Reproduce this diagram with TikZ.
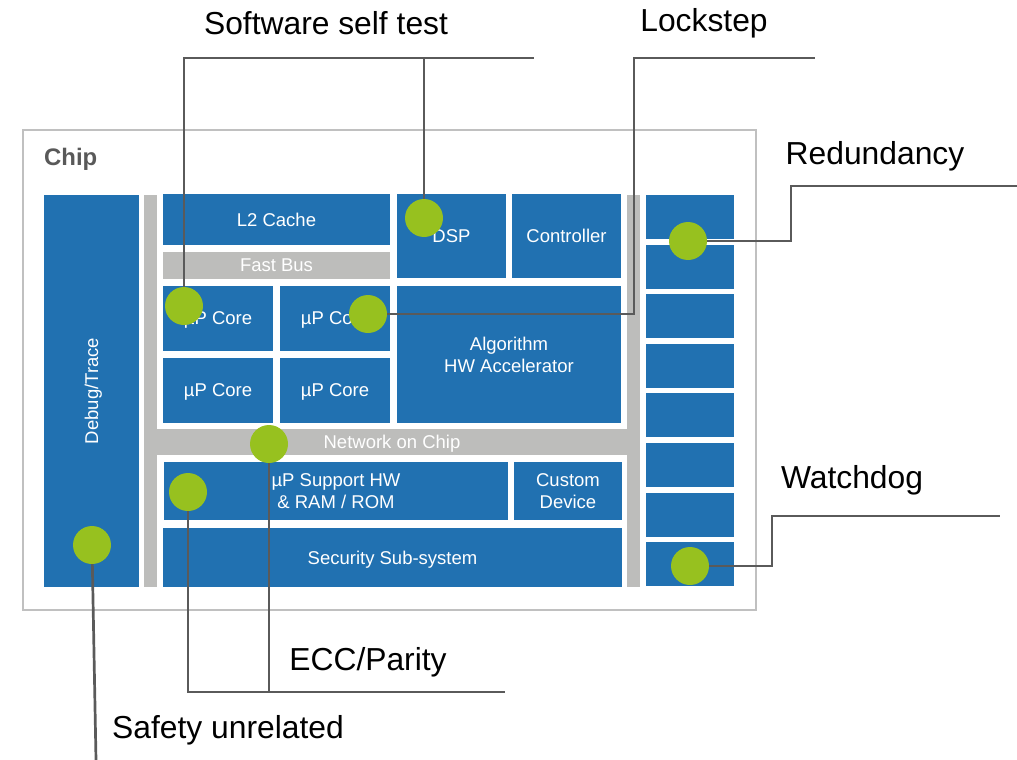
\documentclass[tikz,border=0pt]{standalone}
\usepackage{fontspec}
\setmainfont{Liberation Sans}
\definecolor{chipblue}{HTML}{2171B1}
\definecolor{bargray}{HTML}{BDBDBB}
\definecolor{dotgreen}{HTML}{97C11F}
\definecolor{wiregray}{HTML}{5A5A5A}
\definecolor{framegray}{HTML}{C0C0C0}
\definecolor{chiptext}{HTML}{595959}
\begin{document}
\begin{tikzpicture}[x=1pt,y=-1pt,
  blk/.style={fill=chipblue,text=white,inner sep=0pt,text depth=0pt,align=center,font=\fontsize{18.5}{22}\selectfont},
  bar/.style={fill=bargray,text=white,inner sep=0pt,text depth=0pt,font=\fontsize{18.5}{22}\selectfont},
  dot/.style={circle,fill=dotgreen,inner sep=0pt,minimum size=38pt},
  wire/.style={draw=wiregray,line width=2.7pt},
  lbl/.style={inner sep=0pt,yshift=-3pt,font=\fontsize{31.8}{36}\selectfont}]
\useasboundingbox (0,0) rectangle (1017,760);
% chip outline
\draw [framegray,line width=2.5pt] (23,130) rectangle (756,610);
\node [anchor=west,inner sep=0pt,text=chiptext,font=\fontsize{23.9}{28}\selectfont\bfseries] (chip) at (44,159) {Chip};
% gray buses
\node [bar,minimum width=13pt,minimum height=392pt] (lbar) at (150.5,391) {};
\node [bar,minimum width=13pt,minimum height=392pt] (rbar) at (633.5,391) {};
\node [bar,minimum width=496pt,minimum height=26pt] (noc) at (392,442) {Network on Chip};
\node [bar,minimum width=227pt,minimum height=27pt] (fastbus) at (276.5,265.5) {Fast Bus};
% blocks
\node [blk,minimum width=392pt,minimum height=95pt,rotate=90] (debug) at (91.5,391) {Debug/Trace};
\node [blk,minimum width=227pt,minimum height=51pt] (l2) at (276.5,219.5) {L2 Cache};
\node [blk,minimum width=110pt,minimum height=65pt] (core1) at (218,318.5) {µP Core};
\node [blk,minimum width=110pt,minimum height=65pt] (core2) at (335,318.5) {µP Core};
\node [blk,minimum width=110pt,minimum height=65pt] (core3) at (218,390.5) {µP Core};
\node [blk,minimum width=110pt,minimum height=65pt] (core4) at (335,390.5) {µP Core};
\node [blk,minimum width=109pt,minimum height=84pt] (dsp) at (451.5,236) {DSP};
\node [blk,minimum width=109pt,minimum height=84pt] (ctrl) at (566.5,236) {Controller};
\node [blk,minimum width=224pt,minimum height=137pt] (algo) at (509,354.5) {Algorithm\\HW Accelerator};
\node [blk,minimum width=344pt,minimum height=58pt] (support) at (336,491) {µP Support HW\\\& RAM / ROM};
\node [blk,minimum width=108pt,minimum height=58pt] (custom) at (568,491) {Custom\\Device};
\node [blk,minimum width=459pt,minimum height=59pt] (security) at (392.5,557.5) {Security Sub-system};
\foreach \i in {0,...,7}
  \node [blk,minimum width=88pt,minimum height=44pt] (io\i) at (690,217+\i*49.6) {};
% safety markers
\node [dot] (sstDot) at (184,306) {};
\node [dot] (dspDot) at (424,218) {};
\node [dot] (lockDot) at (368,314) {};
\node [dot] (redDot) at (688,241) {};
\node [dot] (wdDot) at (690,566) {};
\node [dot] (nocDot) at (269,444) {};
\node [dot] (supDot) at (188,492) {};
\node [dot] (dbgDot) at (92,545) {};
% label ends
\coordinate (sstEnd) at (534,58);
\coordinate (lockA) at (634,58);
\coordinate (lockEnd) at (815,58);
\coordinate (redA) at (791,186);
\coordinate (redEnd) at (1017,186);
\coordinate (wdA) at (772,516);
\coordinate (wdEnd) at (1000,516);
\coordinate (eccEnd) at (505,692);
\coordinate (safeEnd) at (96,760);
% wires
\draw [wire] (sstDot) |- (sstEnd);
\draw [wire] (dspDot) -- (dspDot |- sstEnd);
\draw [wire] (lockDot) -| (lockA) -- (lockEnd);
\draw [wire] (redDot) -| (redA) -- (redEnd);
\draw [wire] (wdDot) -| (wdA) -- (wdEnd);
\draw [wire] (supDot) |- (eccEnd);
\draw [wire] (nocDot) -- (nocDot |- eccEnd);
\draw [wire] (dbgDot) -- (safeEnd);
% labels
\node [lbl] (sstLbl) at (326,20) {Software self test};
\node [lbl] (lockLbl) at (704,20) {Lockstep};
\node [lbl] (redLbl) at (875,153) {Redundancy};
\node [lbl] (wdLbl) at (852,477) {Watchdog};
\node [lbl] (eccLbl) at (368,659) {ECC/Parity};
\node [lbl] (safeLbl) at (228,727) {Safety unrelated};
\end{tikzpicture}
\end{document}
